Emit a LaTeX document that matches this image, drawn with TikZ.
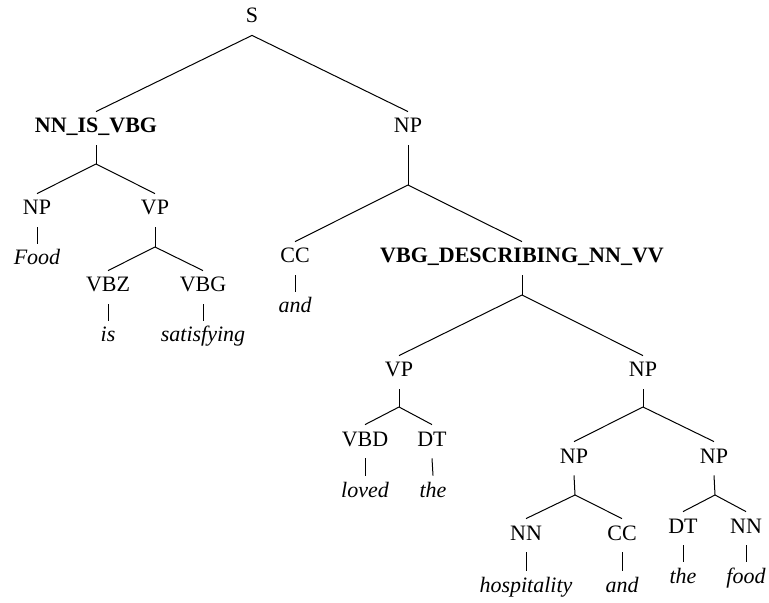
\documentclass[tikz,border=0pt]{standalone}
\usepackage{fontspec}
\setmainfont{Liberation Serif}

\begin{document}
\begin{tikzpicture}[
		x=0.5pt, y=-0.5pt,
		tag/.style={anchor=base, font=\fontsize{11}{13}\selectfont, text height=8pt, text depth=3.5pt, inner sep=2.5pt},
		rulename/.style={tag, font=\fontsize{11}{13}\selectfont\bfseries},
		leaf/.style={tag, font=\fontsize{11}{13}\selectfont\itshape},
		link/.style={line width=0.5pt}
		]
		\useasboundingbox (0,0) rectangle (769,603);
		
		% ==========================================
		% ROOT
		% ==========================================
		\node[tag] (s) at (252,23) {S};
		\node[rulename] (isvbg) at (96,133) {NN\_IS\_VBG};
		\node[tag] (np_top) at (408,133) {NP};
		
		\draw[link] (s.south) -- (isvbg.north);
		\draw[link] (s.south) -- (np_top.north);
		
		% ==========================================
		% LEFT: Food is satisfying
		% ==========================================
		\coordinate (isvbg_b) at (96,164);
		\node[tag] (np_food) at (37,215) {NP};
		\node[tag] (vp_is) at (155,215) {VP};
		\node[leaf] (w_food) at (37,265) {Food};
		
		\coordinate (vp_is_b) at (155,247);
		\node[tag] (vbz) at (108,292) {VBZ};
		\node[tag] (vbg) at (203,292) {VBG};
		\node[leaf] (w_is) at (108,342) {is};
		\node[leaf] (w_satisfying) at (203,342) {satisfying};
		
		\draw[link] (isvbg.south) -- (isvbg_b);
		\draw[link] (isvbg_b) -- (np_food.north);
		\draw[link] (isvbg_b) -- (vp_is.north);
		\draw[link] (np_food.south) -- (w_food.north);
		\draw[link] (vp_is.south) -- (vp_is_b);
		\draw[link] (vp_is_b) -- (vbz.north);
		\draw[link] (vp_is_b) -- (vbg.north);
		\draw[link] (vbz.south) -- (w_is.north);
		\draw[link] (vbg.south) -- (w_satisfying.north);
		
		% ==========================================
		% RIGHT: and ...
		% ==========================================
		\coordinate (np_top_b) at (408,185);
		\node[tag] (cc_and) at (295,263) {CC};
		\node[rulename] (describing) at (522,263) {VBG\_DESCRIBING\_NN\_VV};
		\node[leaf] (w_and) at (295,313) {and};
		
		\draw[link] (np_top.south) -- (np_top_b);
		\draw[link] (np_top_b) -- (cc_and.north);
		\draw[link] (np_top_b) -- (describing.north);
		\draw[link] (cc_and.south) -- (w_and.north);
		
		% ==========================================
		% loved the ...
		% ==========================================
		\coordinate (describing_b) at (522,295);
		\node[tag] (vp_loved) at (399,377) {VP};
		\node[tag] (np_obj) at (643,377) {NP};
		
		\draw[link] (describing.south) -- (describing_b);
		\draw[link] (describing_b) -- (vp_loved.north);
		\draw[link] (describing_b) -- (np_obj.north);
		
		\coordinate (vp_loved_b) at (399,407);
		\node[tag] (vbd) at (365,446) {VBD};
		\node[tag] (dt_the) at (432,446) {DT};
		\node[leaf] (w_loved) at (365,497) {loved};
		\node[leaf] (w_the) at (433,497) {the};
		
		\draw[link] (vp_loved.south) -- (vp_loved_b);
		\draw[link] (vp_loved_b) -- (vbd.north);
		\draw[link] (vp_loved_b) -- (dt_the.north);
		\draw[link] (vbd.south) -- (w_loved.north);
		\draw[link] (dt_the.south) -- (w_the.north);
		
		% ==========================================
		% hospitality and the food
		% ==========================================
		\coordinate (np_obj_b) at (643,407);
		\node[tag] (np_hosp) at (574,463) {NP};
		\node[tag] (np_food2) at (714,463) {NP};
		
		\draw[link] (np_obj.south) -- (np_obj_b);
		\draw[link] (np_obj_b) -- (np_hosp.north);
		\draw[link] (np_obj_b) -- (np_food2.north);
		
		\coordinate (np_hosp_b) at (575,495);
		\node[tag] (nn_hosp) at (526,540) {NN};
		\node[tag] (cc_and2) at (622,540) {CC};
		\node[leaf] (w_hospitality) at (526,592) {hospitality};
		\node[leaf] (w_and2) at (622,592) {and};
		
		\draw[link] (np_hosp.south) -- (np_hosp_b);
		\draw[link] (np_hosp_b) -- (nn_hosp.north);
		\draw[link] (np_hosp_b) -- (cc_and2.north);
		\draw[link] (nn_hosp.south) -- (w_hospitality.north);
		\draw[link] (cc_and2.south) -- (w_and2.north);
		
		\coordinate (np_food2_b) at (715,495);
		\node[tag] (dt_the2) at (683,533) {DT};
		\node[tag] (nn_food) at (746,533) {NN};
		\node[leaf] (w_the2) at (683,583) {the};
		\node[leaf] (w_food2) at (746,583) {food};
		
		\draw[link] (np_food2.south) -- (np_food2_b);
		\draw[link] (np_food2_b) -- (dt_the2.north);
		\draw[link] (np_food2_b) -- (nn_food.north);
		\draw[link] (dt_the2.south) -- (w_the2.north);
		\draw[link] (nn_food.south) -- (w_food2.north);
		
	\end{tikzpicture}
\end{document}
